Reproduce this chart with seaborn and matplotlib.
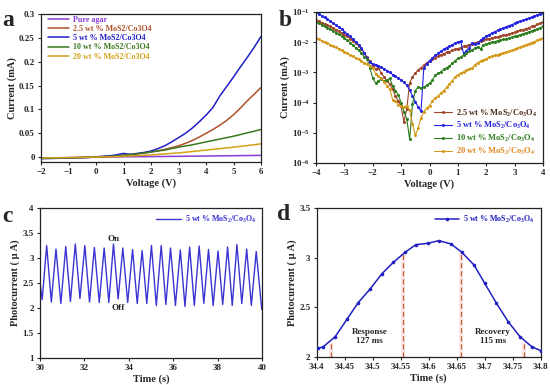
import numpy as np
import matplotlib
matplotlib.use("Agg")
import matplotlib.pyplot as plt
import seaborn as sns
from matplotlib.ticker import FuncFormatter, NullLocator

# ---------------- panel a : I-V, linear ----------------
volt_a = np.arange(-2, 6.01, 0.25)
cur_agar = [-0.002, -0.0018, -0.0015, -0.0012, -0.001, -0.0008, -0.0005, -0.0003, 0.0, 0.0002,
            0.0004, 0.0006, 0.0008, 0.001, 0.0011, 0.0012, 0.0013, 0.0015, 0.0016, 0.0018,
            0.0019, 0.002, 0.0022, 0.0024, 0.0025, 0.0027, 0.0029, 0.003, 0.0032, 0.0034,
            0.0035, 0.0037, 0.0039]
cur_25 = [-0.002, -0.0018, -0.0015, -0.0012, -0.001, -0.0008, -0.0005, -0.0002, 0.0005, 0.001,
          0.0018, 0.0028, 0.004, 0.0055, 0.007, 0.0088, 0.011, 0.0135, 0.0165, 0.020,
          0.024, 0.029, 0.035, 0.042, 0.050, 0.058, 0.067, 0.077, 0.089, 0.103,
          0.118, 0.132, 0.146]
cur_5 = [-0.003, -0.0027, -0.0024, -0.002, -0.0016, -0.0012, -0.0008, -0.0003, 0.001, 0.002,
         0.003, 0.005, 0.008, 0.006, 0.008, 0.010, 0.013, 0.018, 0.024, 0.032,
         0.041, 0.050, 0.061, 0.074, 0.088, 0.104, 0.128, 0.148, 0.168, 0.189,
         0.209, 0.230, 0.253]
cur_10 = [-0.002, -0.0018, -0.0015, -0.0012, -0.001, -0.0008, -0.0005, -0.0002, 0.0005, 0.001,
          0.0018, 0.0028, 0.004, 0.0055, 0.007, 0.009, 0.011, 0.013, 0.015, 0.018,
          0.021, 0.0235, 0.026, 0.029, 0.032, 0.035, 0.038, 0.041, 0.044, 0.0475,
          0.051, 0.0545, 0.058]
cur_20 = [-0.0015, -0.0013, -0.0011, -0.0009, -0.0007, -0.0005, -0.0003, -0.0001, 0.0003, 0.0006,
          0.0009, 0.0014, 0.002, 0.0027, 0.0034, 0.0042, 0.005, 0.006, 0.007, 0.008,
          0.009, 0.0105, 0.012, 0.0135, 0.015, 0.0165, 0.018, 0.0195, 0.021, 0.0228,
          0.0245, 0.0262, 0.028]
labels_a = ["Pure agar", "2.5 wt % MoS2/Co3O4", "5 wt % MoS2/Co3O4",
            "10 wt % MoS2/Co3O4", "20 wt % MoS2/Co3O4"]
colors_a = ["#8a3ad6", "#b0502a", "#1f1fc8", "#3a7a1e", "#d4a017"]

# ---------------- panel b : I-V, log (values as log10 mA) ----------------
volt_b = np.round(np.arange(-4, 4.01, 0.1), 2)
log_25 = [-1.26, -1.30, -1.35, -1.39, -1.44, -1.48, -1.53, -1.58, -1.63, -1.69,
          -1.75, -1.81, -1.88, -1.95, -2.03, -2.12, -2.22, -2.35, -2.50, -2.62,
          -2.78, -2.90, -2.85, -3.02, -3.15, -3.28, -3.40, -3.55, -3.78, -3.95,
          -4.12, -4.65, -4.20, -3.35, -3.15, -3.02, -2.92, -2.85, -2.76, -2.68,
          -2.62, -2.56, -2.51, -2.46, -2.42, -2.38, -2.34, -2.31, -2.27, -2.24,
          -2.21, -2.18, -2.14, -2.11, -2.08, -2.05, -2.02, -1.99, -1.96, -1.93,
          -1.91, -1.88, -1.86, -1.84, -1.82, -1.80, -1.77, -1.75, -1.73, -1.70,
          -1.67, -1.64, -1.61, -1.58, -1.55, -1.52, -1.48, -1.45, -1.41, -1.37,
          -1.33]
log_5 = [-1.00, -1.06, -1.12, -1.18, -1.24, -1.30, -1.36, -1.43, -1.50, -1.57,
         -1.65, -1.73, -1.81, -1.90, -1.99, -2.08, -2.20, -2.35, -2.53, -2.66,
         -2.72, -2.74, -2.78, -2.83, -2.88, -2.94, -3.00, -3.07, -3.13, -3.19,
         -3.25, -3.33, -3.43, -3.58, -3.78, -3.97, -4.15, -4.29, -2.85, -2.72,
         -2.62, -2.52, -2.44, -2.37, -2.30, -2.24, -2.18, -2.13, -2.08, -2.03,
         -1.99, -1.97, -2.38, -2.28, -2.18, -2.03, -2.07, -2.04, -1.93, -1.86,
         -1.80, -1.75, -1.70, -1.65, -1.61, -1.57, -1.53, -1.49, -1.45, -1.42,
         -1.38, -1.34, -1.31, -1.27, -1.24, -1.20, -1.17, -1.13, -1.10, -1.06,
         -1.02]
log_10 = [-1.32, -1.37, -1.42, -1.47, -1.52, -1.57, -1.62, -1.68, -1.74, -1.80,
          -1.87, -1.94, -2.02, -2.10, -2.18, -2.27, -2.36, -2.48, -2.55, -2.85,
          -3.20, -3.35, -3.28, -3.22, -3.30, -3.25, -3.20, -3.45, -3.60, -3.75,
          -4.00, -4.30, -4.55, -5.22, -4.05, -3.60, -3.48, -3.52, -3.50, -3.42,
          -3.36, -3.25, -3.10, -3.03, -2.98, -2.90, -2.84, -2.80, -2.70, -2.62,
          -2.53, -2.50, -2.42, -2.36, -2.30, -2.26, -2.20, -2.15, -2.22, -2.10,
          -2.07, -2.03, -2.00, -1.98, -1.95, -1.93, -1.91, -1.89, -1.87, -1.84,
          -1.81, -1.78, -1.75, -1.72, -1.69, -1.66, -1.63, -1.60, -1.56, -1.52,
          -1.48]
log_20 = [-1.87, -1.91, -1.95, -1.99, -2.03, -2.08, -2.12, -2.17, -2.21, -2.27,
          -2.32, -2.37, -2.42, -2.47, -2.52, -2.56, -2.62, -2.68, -2.72, -2.78,
          -2.85, -3.05, -3.12, -3.20, -3.32, -3.45, -3.55, -3.90, -3.95, -4.08,
          -4.12, -4.15, -4.10, -4.25, -4.70, -5.08, -4.85, -4.50, -4.30, -4.18,
          -4.10, -3.95, -3.85, -3.78, -3.68, -3.60, -3.50, -3.38, -3.28, -3.15,
          -3.08, -3.02, -2.98, -2.93, -2.88, -2.85, -2.75, -2.68, -2.62, -2.58,
          -2.55, -2.50, -2.47, -2.44, -2.41, -2.38, -2.35, -2.32, -2.30, -2.27,
          -2.24, -2.20, -2.16, -2.12, -2.08, -2.05, -2.01, -1.98, -1.94, -1.90,
          -1.86]
labels_b = ["2.5 wt % MoS$_2$/Co$_3$O$_4$", "5 wt % MoS$_2$/Co$_3$O$_4$",
            "10 wt % MoS$_2$/Co$_3$O$_4$", "20 wt % MoS$_2$/Co$_3$O$_4$"]
colors_b = ["#a0462a", "#2222e0", "#2e7d1e", "#d49a1a"]
text_b = ["#4a2a1a", "#2222e0", "#2e7d1e", "#e08a20"]

time_c = [30.00, 30.10, 30.30, 30.51, 30.72, 30.94, 31.16, 31.37, 31.59, 31.80,
          32.02, 32.23, 32.45, 32.67, 32.89, 33.10, 33.31, 33.52, 33.73, 33.95,
          34.17, 34.38, 34.60, 34.81, 35.02, 35.24, 35.46, 35.67, 35.88, 36.10,
          36.32, 36.53, 36.74, 36.95, 37.17, 37.38, 37.59, 37.80, 38.02, 38.23,
          38.45, 38.66, 38.87, 39.09, 39.31, 39.52, 39.74, 39.99]
photo_c = [2.50, 2.17, 3.25, 2.12, 3.18, 2.09, 3.23, 2.13, 3.28, 2.19,
           3.25, 2.12, 3.21, 2.11, 3.20, 2.11, 3.28, 2.18, 3.20, 2.11,
           3.17, 2.09, 3.15, 2.09, 3.25, 2.05, 3.25, 2.07, 3.20, 2.05,
           3.16, 2.03, 3.22, 2.05, 3.24, 2.09, 3.17, 2.05, 3.14, 2.07,
           3.22, 2.05, 3.27, 2.09, 3.18, 2.05, 3.13, 1.97]

# ---------------- panel d : single pulse ----------------
time_d = [34.402, 34.411, 34.433, 34.454, 34.474, 34.495, 34.516, 34.537, 34.558, 34.577,
          34.599, 34.618, 34.640, 34.659, 34.681, 34.700, 34.721, 34.742, 34.763, 34.784,
          34.800]
photo_d = [2.09, 2.10, 2.205, 2.38, 2.548, 2.683, 2.837, 2.956, 3.057, 3.133,
           3.147, 3.174, 3.14, 3.057, 2.928, 2.744, 2.542, 2.356, 2.205, 2.104,
           2.064]
mark_t = [34.4255, 34.5535, 34.657, 34.771]
mark_top = [2.155, 3.046, 3.046, 2.155]

sns.set_style("ticks")
plt.rcParams["font.family"] = ["Liberation Serif", "DejaVu Serif"]
plt.rcParams.update({
    "font.weight": "bold",
    "axes.labelweight": "bold",
    "mathtext.fontset": "custom",
    "mathtext.rm": "Liberation Serif:bold",
    "mathtext.it": "Liberation Serif:bold",
    "mathtext.bf": "Liberation Serif:bold",
    "mathtext.default": "rm",
    "axes.linewidth": 0.9,
    "axes.edgecolor": "#222222",
    "xtick.direction": "out",
    "ytick.direction": "out",
    "xtick.major.size": 2.5,
    "ytick.major.size": 2.5,
    "xtick.major.width": 0.8,
    "ytick.major.width": 0.8,
    "xtick.major.pad": 2,
    "ytick.major.pad": 2,
    "xtick.labelsize": 6.5,
    "ytick.labelsize": 6.5,
    "axes.labelsize": 7.5,
    "axes.labelpad": 1.5,
})

W, H = 550, 385
fig = plt.figure(figsize=(W / 100, H / 100), dpi=100)


def px_axes(l, t, r, b):
    return fig.add_axes([l / W, 1 - b / H, (r - l) / W, (b - t) / H])


fmt = FuncFormatter(lambda v, p: f"{v:g}")

# ---- a ----
ax = px_axes(41, 14, 261, 162)
for y, lab, col in zip([cur_agar, cur_25, cur_5, cur_10, cur_20], labels_a, colors_a):
    sns.lineplot(x=volt_a, y=y, ax=ax, color=col, lw=1.1, label=lab)
ax.set_xlim(-2, 6)
ax.set_ylim(-0.01, 0.3)
ax.set_xticks(range(-2, 7))
ax.set_yticks([0, 0.05, 0.1, 0.15, 0.2, 0.25, 0.3])
ax.yaxis.set_major_formatter(fmt)
ax.set_xlabel("Voltage (V)")
ax.set_ylabel("Current (mA)")
leg = ax.legend(loc="upper left", bbox_to_anchor=(0.01, 1.02), frameon=False, fontsize=5.8,
                handlelength=2.6, labelspacing=0.15, handletextpad=0.5, borderaxespad=0.2)
for t, c in zip(leg.get_texts(), colors_a):
    t.set_color(c)

# ---- b ----
ax = px_axes(316, 12, 543, 163)
for y, lab, col in zip([log_25, log_5, log_10, log_20], labels_b, colors_b):
    sns.lineplot(x=volt_b, y=10 ** np.array(y), ax=ax, color=col, lw=0.8, label=lab,
                 marker="o", markersize=2.2, markeredgewidth=0)
ax.set_yscale("log")
ax.set_xlim(-4, 4)
ax.set_ylim(1e-6, 1e-1)
ax.set_xticks(range(-4, 5))
ax.set_yticks([1e-6, 1e-5, 1e-4, 1e-3, 1e-2, 1e-1])
ax.yaxis.set_minor_locator(NullLocator())
ax.set_xlabel("Voltage (V)")
ax.set_ylabel("Current (mA)")
leg = ax.legend(loc="lower right", frameon=False, fontsize=6, handlelength=2.2,
                labelspacing=0.2, handletextpad=0.5, borderaxespad=0.3)
for t, c in zip(leg.get_texts(), text_b):
    t.set_color(c)

# ---- c ----
ax = px_axes(40, 208, 262, 358)
sns.lineplot(x=time_c, y=photo_c, ax=ax, color="#3a34d2", lw=1.0,
             label="5 wt % MoS$_2$/Co$_3$O$_4$")
ax.set_xlim(30, 40)
ax.set_ylim(1, 4)
ax.set_xticks(range(30, 41, 2))
ax.set_yticks([1, 1.5, 2, 2.5, 3, 3.5, 4])
ax.yaxis.set_major_formatter(fmt)
ax.text(33.31, 3.38, "On", fontsize=6.5, ha="center", va="center")
ax.text(33.53, 2.0, "Off", fontsize=6.5, ha="center", va="center")
ax.set_xlabel("Time (s)")
ax.set_ylabel("Photocurrent ( μ A)")
leg = ax.legend(loc="upper right", frameon=False, fontsize=5.8, handlelength=3,
                handletextpad=0.5, borderaxespad=0.3)
for t in leg.get_texts():
    t.set_color("#3a34d2")

# ---- d ----
ax = px_axes(316.7, 208.3, 540.7, 357)
ax.vlines(mark_t, 2, mark_top, color="#fce6ea", lw=3, zorder=1)
ax.vlines(mark_t, 2, mark_top, color="#c0602a", lw=0.9, linestyles=(0, (4, 2.5)), zorder=2)
sns.lineplot(x=time_d, y=photo_d, ax=ax, color="#2020c0", lw=1.1, marker="o",
             markersize=2.6, markeredgewidth=0, label="5 wt % MoS$_2$/Co$_3$O$_4$", zorder=3)
ax.set_xlim(34.4, 34.8)
ax.set_ylim(2, 3.5)
ax.set_xticks([34.4, 34.45, 34.5, 34.55, 34.6, 34.65, 34.7, 34.75, 34.8])
ax.set_yticks([2, 2.5, 3, 3.5])
ax.xaxis.set_major_formatter(fmt)
ax.yaxis.set_major_formatter(fmt)
ax.text(34.494, 2.21, "Response\n127 ms", fontsize=6.5, ha="center", va="center", linespacing=1.2)
ax.text(34.715, 2.21, "Recovery\n115 ms", fontsize=6.5, ha="center", va="center", linespacing=1.2)
ax.set_xlabel("Time (s)")
ax.set_ylabel("Photocurrent ( μ A)")
leg = ax.legend(loc="upper right", frameon=False, fontsize=5.8, handlelength=3,
                handletextpad=0.5, borderaxespad=0.3)
for t in leg.get_texts():
    t.set_color("#2020c0")

# panel letters
for s, x, y in [("a", 2, 26), ("b", 279, 26), ("c", 2, 222), ("d", 277, 220)]:
    fig.text(x / W, 1 - y / H, s, fontsize=17, fontweight="bold", ha="left", va="baseline")

fig.savefig("out.png", dpi=100)
